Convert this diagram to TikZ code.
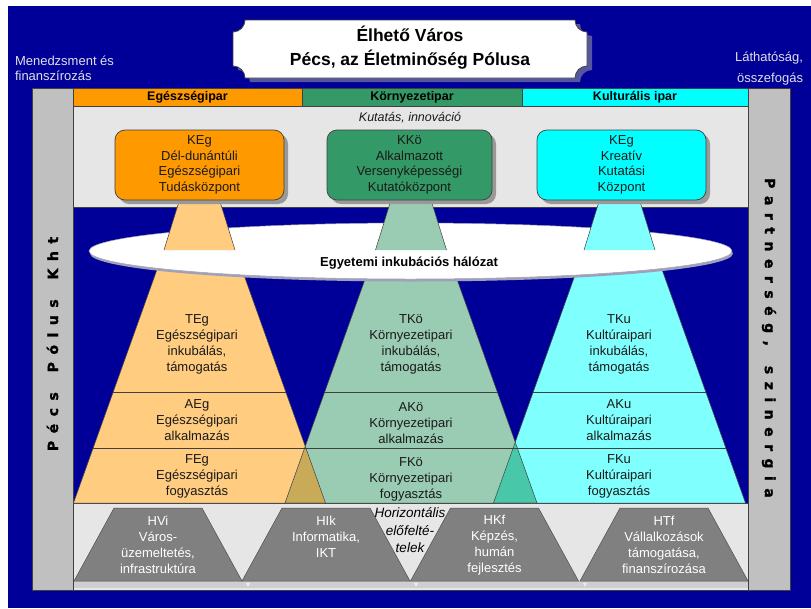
\documentclass[tikz,border=0pt]{standalone}
\usepackage{fontspec}
\setmainfont{Liberation Sans}
\newfontfamily\heavyfont{DejaVu Sans}[BoldFeatures={FakeBold=1.6}]
\usetikzlibrary{shapes.geometric,shadows}
\definecolor{bgblue}{HTML}{000099}
\definecolor{colgrey}{HTML}{C0C0C0}
\definecolor{lightgrey}{HTML}{E6E6E6}
\definecolor{orangeA}{HTML}{FF9900}
\definecolor{greenA}{HTML}{339966}
\definecolor{cyanA}{HTML}{00FFFF}
\definecolor{orangeB}{HTML}{FFCC80}
\definecolor{greenB}{HTML}{9ACBB3}
\definecolor{cyanB}{HTML}{80FFFF}
\definecolor{oliveC}{HTML}{C8AA58}
\definecolor{tealC}{HTML}{48C8A8}
\definecolor{trapgrey}{HTML}{808080}
\definecolor{trapedge}{HTML}{505050}
\definecolor{edgec}{HTML}{404040}
\definecolor{textdark}{HTML}{1A1A1A}
\definecolor{shadowgrey}{HTML}{999999}
\definecolor{labelwhite}{HTML}{E0E0E8}
\definecolor{titleshadow}{HTML}{5555A0}
\definecolor{stripgrey}{HTML}{CFCFCF}
\definecolor{ellshadow}{HTML}{A0A0B8}
\newcommand{\lsp}{\hspace{7.5pt}}
\begin{document}
\begin{tikzpicture}[x=1pt,y=-1pt,
  every node/.style={inner sep=0pt,outer sep=0pt},
  edgeline/.style={draw=edgec,line width=0.5pt},
  body/.style={font=\fontsize{13}{16}\selectfont,align=center,text=textdark},
  kbox/.style={font=\fontsize{13}{15.7}\selectfont,align=center,text=textdark,draw=edgec,line width=0.7pt,rounded corners=10pt,minimum height=70pt,drop shadow={shadow xshift=4pt,shadow yshift=-4pt,fill=shadowgrey,opacity=1}},
  hdr/.style={font=\bfseries\fontsize{12.5}{14}\selectfont,text=black},
  htext/.style={font=\fontsize{13}{16}\selectfont,align=center,text=white},
  sidelabel/.style={font=\fontsize{13}{15}\selectfont,text=labelwhite},
  vert/.style={font=\heavyfont\bfseries\fontsize{14}{16}\selectfont,text=black},
  trap/.style={fill=trapgrey,draw=trapedge,line width=0.5pt}
]
\useasboundingbox (0,0) rectangle (811,608);
\fill[white] (0,0) rectangle (811,608);
\fill[bgblue] (8,6) rectangle (811,608);

% side labels
\node[sidelabel,anchor=west,align=left] (mgmt) at (15,68.5) {Menedzsment és\\finanszírozás};
\node[sidelabel,anchor=east,align=right,font=\fontsize{13}{21}\selectfont] (vis) at (803,68.5) {Láthatóság,\\összefogás};

% title plaque
\begin{scope}[shift={(5,4)}]
\fill[titleshadow] (245,20) -- (575,20) .. controls (575,26.6) and (580.4,32) .. (587,32) -- (587,66) .. controls (580.4,66) and (575,71.4) .. (575,78) -- (245,78) .. controls (245,71.4) and (239.6,66) .. (233,66) -- (233,32) .. controls (239.6,32) and (245,26.6) .. (245,20) -- cycle;
\end{scope}
\path[fill=white,draw=edgec,line width=0.8pt] (245,20) -- (575,20) .. controls (575,26.6) and (580.4,32) .. (587,32) -- (587,66) .. controls (580.4,66) and (575,71.4) .. (575,78) -- (245,78) .. controls (245,71.4) and (239.6,66) .. (233,66) -- (233,32) .. controls (239.6,32) and (245,26.6) .. (245,20) -- cycle;
\node[font=\bfseries\fontsize{17.5}{24}\selectfont,align=center,text=black] (title) at (410,47.5) {Élhető Város\\Pécs, az Életminőség Pólusa};

% frame
\path[fill=colgrey,edgeline] (32,88) rectangle (73,590);
\path[fill=colgrey,edgeline] (748,88) rectangle (790,590);
\path[fill=orangeA,edgeline] (73,88) rectangle (302,106);
\path[fill=greenA,edgeline] (302,88) rectangle (522,106);
\path[fill=cyanA,edgeline] (522,88) rectangle (748,106);
\path[fill=lightgrey,edgeline] (73,106) rectangle (748,207);
\path[fill=lightgrey,edgeline] (73,503) rectangle (748,590);

\node[hdr] (hEg) at (187.5,97) {Egészségipar};
\node[hdr] (hKo) at (412,97) {Környezetipar};
\node[hdr] (hKu) at (635,97) {Kulturális ipar};
\node[font=\itshape\fontsize{12.5}{14}\selectfont,text=textdark] (kut) at (410,117.5) {Kutatás, innováció};

% pyramids
\foreach \c/\col in {199.5/orangeB,411/greenB,619.5/cyanB}{
  \fill[\col] (\c-35.5,250) -- (\c+35.5,250) -- (\c+126,503) -- (\c-126,503) -- cycle;
}
\begin{scope}
  \clip (164,250) -- (235,250) -- (325.5,503) -- (73.5,503) -- cycle;
  \fill[oliveC] (375.5,250) -- (446.5,250) -- (537,503) -- (285,503) -- cycle;
\end{scope}
\begin{scope}
  \clip (375.5,250) -- (446.5,250) -- (537,503) -- (285,503) -- cycle;
  \fill[tealC] (584,250) -- (655,250) -- (745.5,503) -- (493.5,503) -- cycle;
\end{scope}
\foreach \c in {199.5,411,619.5}{
  \draw[edgeline] (\c-35.5,250) -- (\c-126,503) -- (\c+126,503) -- (\c+35.5,250);
  \draw[edgeline] (\c-86.3,392) -- (\c+86.3,392);
  \draw[edgeline] (\c-106.3,448) -- (\c+106.3,448);
}

% incubation ellipse
\node[ellipse,fill=white,draw=ellshadow,line width=0.5pt,minimum width=643pt,minimum height=56pt,
  drop shadow={shadow xshift=1pt,shadow yshift=-2.5pt,fill=ellshadow,opacity=1}] (incub) at (410.5,251) {};
\node[font=\bfseries\fontsize{13}{15}\selectfont,text=black] (incubT) at (409,263) {Egyetemi inkubációs hálózat};

% beams
\foreach \c/\col in {199.5/orangeB,411/greenB,619.5/cyanB}{
  \fill[\col] (\c-20,200) -- (\c+20,200) -- (\c+35.5,250) -- (\c-35.5,250) -- cycle;
  \draw[edgeline] (\c-20,200) -- (\c-35.5,250) (\c+20,200) -- (\c+35.5,250);
}

% knowledge centres
\node[kbox,fill=orangeA,minimum width=169pt] (kEg) at (199.5,165) {KEg\\Dél-dunántúli\\Egészségipari\\Tudásközpont};
\node[kbox,fill=greenA,minimum width=165pt] (kKo) at (409.5,165) {KKö\\Alkalmazott\\Versenyképességi\\Kutatóközpont};
\node[kbox,fill=cyanA,minimum width=169pt] (kKu) at (621.5,165) {KEg\\Kreatív\\Kutatási\\Központ};

% pyramid texts
\node[body] (tEg) at (197,344.5) {TEg\\Egészségipari\\inkubálás,\\támogatás};
\node[body] (tKo) at (411,344.5) {TKö\\Környezetipari\\inkubálás,\\támogatás};
\node[body] (tKu) at (619,344.5) {TKu\\Kultúraipari\\inkubálás,\\támogatás};
\node[body] (aEg) at (197,420) {AEg\\Egészségipari\\alkalmazás};
\node[body] (aKo) at (411,423) {AKö\\Környezetipari\\alkalmazás};
\node[body] (aKu) at (619,420) {AKu\\Kultúraipari\\alkalmazás};
\node[body] (fEg) at (197,476) {FEg\\Egészségipari\\fogyasztás};
\node[body] (fKo) at (411,479) {FKö\\Környezetipari\\fogyasztás};
\node[body] (fKu) at (619,476) {FKu\\Kultúraipari\\fogyasztás};

% horizontal prerequisites
\fill[stripgrey] (74,581) rectangle (748,588);
\foreach \t in {248,416,585}{
  \fill[white!92!black] (\t-2.5,582.5) -- (\t+2.5,582.5) -- (\t,587) -- cycle;
}
\foreach \c in {158,326,494.5,664}{
  \path[trap] (\c-84,581) -- (\c-44,508) -- (\c+44,508) -- (\c+84,581) -- cycle;
}
\node[htext] (hVi) at (158,545) {HVi\\Város-\\üzemeltetés,\\infrastruktúra};
\node[htext] (hIk) at (326,537) {HIk\\Informatika,\\IKT};
\node[htext] (hKf) at (494.5,545) {HKf\\Képzés,\\humán\\fejlesztés};
\node[htext] (hTf) at (664,545) {HTf\\Vállalkozások\\támogatása,\\finanszírozása};
\node[font=\itshape\fontsize{13.5}{17.5}\selectfont,align=center,text=black] (horiz) at (410,530.5) {Horizontális\\előfelté-\\telek};

% vertical side texts
\node[vert,rotate=90] (pecs) at (52.5,344) {P\lsp é\lsp c\lsp s\lsp\hspace{4.9pt}\lsp P\lsp ó\lsp l\lsp u\lsp s\lsp\hspace{4.9pt}\lsp K\lsp h\lsp t};
\node[vert,rotate=-90] (partner) at (769,338) {P\lsp a\lsp r\lsp t\lsp n\lsp e\lsp r\lsp s\lsp é\lsp g\lsp ,\lsp\hspace{4.9pt}\lsp s\lsp z\lsp i\lsp n\lsp e\lsp r\lsp g\lsp i\lsp a};
\end{tikzpicture}
\end{document}
